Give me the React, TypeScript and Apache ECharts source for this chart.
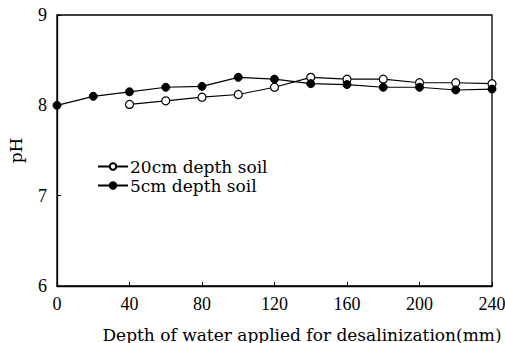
import React, { useEffect, useRef } from "react";
import * as echarts from "echarts";

const xTicks = [0, 40, 80, 120, 160, 200, 240];
const yTicks = [6, 7, 8, 9];
const depth5 = [0, 20, 40, 60, 80, 100, 120, 140, 160, 180, 200, 220, 240];
const ph5 = [8.0, 8.1, 8.15, 8.2, 8.21, 8.31, 8.29, 8.24, 8.23, 8.2, 8.2, 8.17, 8.18];
const depth20 = [40, 60, 80, 100, 120, 140, 160, 180, 200, 220, 240];
const ph20 = [8.01, 8.05, 8.09, 8.12, 8.2, 8.31, 8.29, 8.29, 8.25, 8.25, 8.24];

const FONT = "DejaVu Serif";
const TICKFONT = "Liberation Serif";

export default function App() {
  const ref = useRef<HTMLDivElement>(null);
  useEffect(() => {
    const chart = echarts.init(ref.current!, null, { renderer: "svg" });
    chart.setOption({
      animation: false,
      backgroundColor: "#fff",
      grid: {
        left: 57, right: 13, top: 15, bottom: 57, show: true, borderColor: "#000", borderWidth: 1.3,
        containLabel: false, outerBoundsMode: "none",
      },
      legend: {
        orient: "vertical",
        left: 92,
        top: 153,
        itemWidth: 30,
        itemHeight: 8,
        itemGap: 2,
        textStyle: { fontFamily: FONT, fontSize: 17, color: "#000", padding: [0, 0, 0, -3] },
        data: ["20cm depth soil", "5cm depth soil"],
      },
      xAxis: {
        type: "value",
        min: 0,
        max: 240,
        interval: 40,
        name: "Depth of water applied for desalinization(mm)",
        nameLocation: "middle",
        nameGap: 40,
        nameTextStyle: { fontFamily: FONT, fontSize: 17, color: "#000", padding: [0, 0, 0, 55] },
        axisLine: { lineStyle: { color: "#000", width: 1.3 } },
        axisTick: { inside: true, length: 4, lineStyle: { color: "#000" } },
        axisLabel: {
          fontFamily: TICKFONT, fontSize: 18, color: "#000", margin: 9,
          formatter: (v: number) => (xTicks.includes(v) ? String(v) : ""),
        },
        splitLine: { show: false },
      },
      yAxis: {
        type: "value",
        min: 6,
        max: 9,
        interval: 1,
        name: "pH",
        nameLocation: "middle",
        nameGap: 33,
        nameRotate: 90,
        nameTextStyle: { fontFamily: FONT, fontSize: 17, color: "#000" },
        axisLine: { lineStyle: { color: "#000", width: 1.3 } },
        axisTick: { inside: true, length: 4, lineStyle: { color: "#000" } },
        axisLabel: {
          fontFamily: TICKFONT, fontSize: 18, color: "#000", margin: 10,
          formatter: (v: number) => (yTicks.includes(v) ? String(v) : ""),
        },
        splitLine: { show: false },
      },
      series: [
        {
          name: "20cm depth soil",
          type: "line",
          data: depth20.map((d, i) => [d, ph20[i]]),
          symbol: "circle",
          symbolSize: 8,
          lineStyle: { color: "#000", width: 1.2 },
          itemStyle: { color: "#fff", borderColor: "#000", borderWidth: 1.2 },
          z: 3,
        },
        {
          name: "5cm depth soil",
          type: "line",
          data: depth5.map((d, i) => [d, ph5[i]]),
          symbol: "circle",
          symbolSize: 8,
          lineStyle: { color: "#000", width: 1.2 },
          itemStyle: { color: "#000", borderColor: "#000", borderWidth: 1 },
          z: 4,
        },
      ],
    });
    return () => chart.dispose();
  }, []);
  return <div ref={ref} style={{ width: 505, height: 343, position: "absolute", left: 0, top: 0 }} />;
}
